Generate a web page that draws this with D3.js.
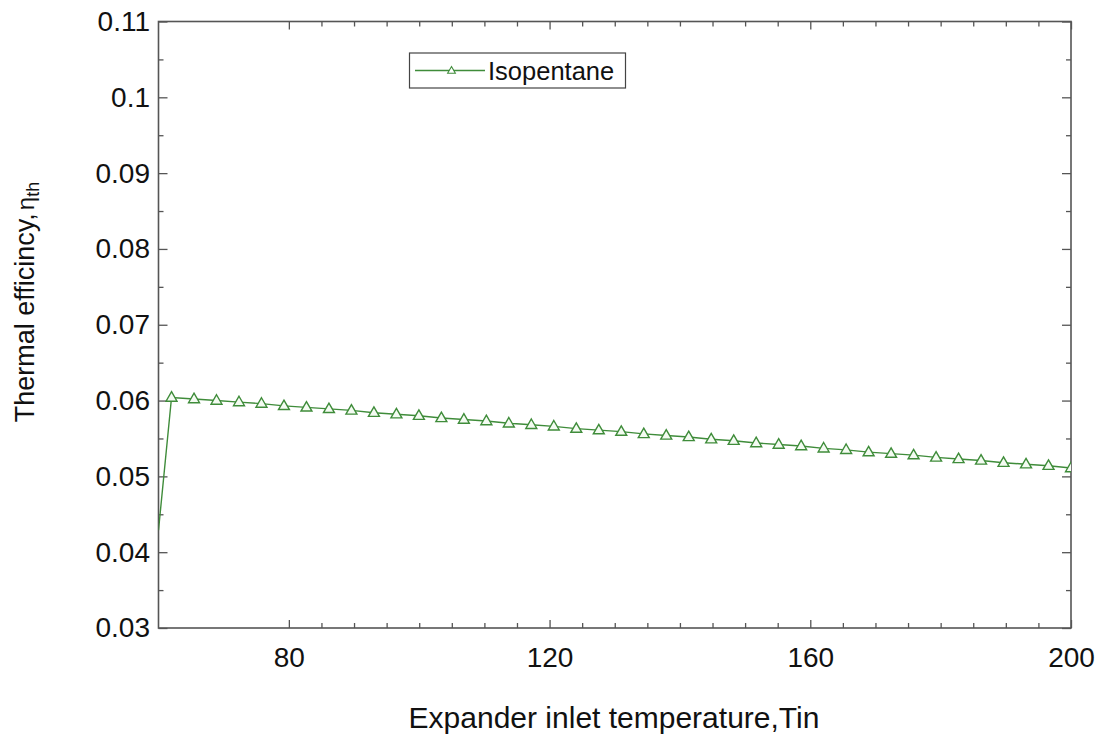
<!DOCTYPE html>
<html>
<head>
<meta charset="utf-8">
<script src="https://d3js.org/d3.v7.min.js"></script>
<style>
  html, body { margin: 0; padding: 0; background: #fff; }
  svg text { font-family: Arial, "Liberation Sans", sans-serif; fill: #111; }
</style>
</head>
<body>
<svg id="chart" width="1103" height="740"></svg>
<script>
// ---- data ----
const seriesName = "Isopentane";
const startPoint = [60.0, 0.0429];   // line start (no marker)
const xValues = [62.00, 65.45, 68.90, 72.35, 75.80, 79.25, 82.70, 86.15, 89.60, 93.05,
                 96.50, 99.95, 103.40, 106.85, 110.30, 113.75, 117.20, 120.65, 124.10, 127.55,
                 131.00, 134.45, 137.90, 141.35, 144.80, 148.25, 151.70, 155.15, 158.60, 162.05,
                 165.50, 168.95, 172.40, 175.85, 179.30, 182.75, 186.20, 189.65, 193.10, 196.55, 200.00];
const yValues = [0.0604, 0.0602, 0.0600, 0.0598, 0.0596, 0.0593, 0.0591, 0.0589, 0.0587, 0.0584,
                 0.0582, 0.0580, 0.0577, 0.0575, 0.0573, 0.0570, 0.0568, 0.0566, 0.0563, 0.0561,
                 0.0559, 0.0556, 0.0554, 0.0552, 0.0549, 0.0547, 0.0544, 0.0542, 0.0540, 0.0537,
                 0.0535, 0.0532, 0.0530, 0.0528, 0.0525, 0.0523, 0.0521, 0.0518, 0.0516, 0.0514, 0.0511];
const xTicks = [80, 120, 160, 200];
const xMinorTicks = [85, 90, 95, 100, 105, 110, 115, 125, 130, 135, 140, 145, 150, 155,
                     165, 170, 175, 180, 185, 190, 195];
const yTicks = [0.03, 0.04, 0.05, 0.06, 0.07, 0.08, 0.09, 0.1, 0.11];
const yTickLabels = ["0.03", "0.04", "0.05", "0.06", "0.07", "0.08", "0.09", "0.1", "0.11"];
const yMinorTicks = [0.035, 0.045, 0.055, 0.065, 0.075, 0.085, 0.095, 0.105];
const xDomain = [60, 200];
const yDomain = [0.03, 0.11];

// ---- layout ----
const L = 158.5, R = 1071, T = 21.5, B = 628;
const svg = d3.select("#chart");
const x = d3.scaleLinear().domain(xDomain).range([L, R]);
const y = d3.scaleLinear().domain(yDomain).range([B, T]);
const axisColor = "#555";
const green = "#3f8c3a";
const font = "Arial, 'Liberation Sans', sans-serif";

svg.append("defs").append("clipPath").attr("id", "clip")
  .append("rect").attr("x", L).attr("y", T).attr("width", R - L).attr("height", B - T);

// ticks (inward) on all four sides
function addAxis(axisGen, tx, ty) {
  const g = svg.append("g").attr("transform", `translate(${tx},${ty})`).call(axisGen);
  g.select(".domain").remove();
  g.selectAll(".tick line").attr("stroke", axisColor).attr("stroke-width", 1.3);
  g.selectAll("text").attr("font-size", 28).style("font-family", font).attr("fill", "#111");
  return g;
}
// bottom
addAxis(d3.axisBottom(x).tickValues(xMinorTicks).tickSize(-5).tickFormat(""), 0, B);
addAxis(d3.axisBottom(x).tickValues(xTicks).tickSize(-8).tickPadding(19).tickFormat(d3.format("d")), 0, B);
// top
addAxis(d3.axisTop(x).tickValues(xMinorTicks).tickSize(-5).tickFormat(""), 0, T);
addAxis(d3.axisTop(x).tickValues(xTicks).tickSize(-8).tickFormat(""), 0, T);
// left
addAxis(d3.axisLeft(y).tickValues(yMinorTicks).tickSize(-5).tickFormat(""), L, 0);
addAxis(d3.axisLeft(y).tickValues(yTicks).tickSize(-9).tickPadding(8.5)
  .tickFormat((d, i) => yTickLabels[i]), L, 0);
// right
addAxis(d3.axisRight(y).tickValues(yMinorTicks).tickSize(-5).tickFormat(""), R, 0);
addAxis(d3.axisRight(y).tickValues(yTicks).tickSize(-9).tickFormat(""), R, 0);

// frame
svg.append("rect").attr("x", L).attr("y", T).attr("width", R - L).attr("height", B - T)
  .attr("fill", "none").attr("stroke", axisColor).attr("stroke-width", 1.6);

// series
const pts = [startPoint].concat(xValues.map((v, i) => [v, yValues[i]]));
const plot = svg.append("g").attr("clip-path", "url(#clip)");
plot.append("path").datum(pts)
  .attr("fill", "none").attr("stroke", green).attr("stroke-width", 1.4)
  .attr("d", d3.line().x(d => x(d[0])).y(d => y(d[1])));
const tri = d3.symbol().type(d3.symbolTriangle).size(52);
plot.selectAll(".mk").data(pts.slice(1)).enter().append("path")
  .attr("class", "mk")
  .attr("transform", d => `translate(${x(d[0])},${y(d[1]) + 0.5})`)
  .attr("d", tri)
  .attr("fill", "#f4fbf2").attr("stroke", green).attr("stroke-width", 1.4);

// legend
const lg = svg.append("g");
lg.append("rect").attr("x", 409.5).attr("y", 53).attr("width", 216).attr("height", 35)
  .attr("fill", "#fff").attr("stroke", "#444").attr("stroke-width", 1.2);
lg.append("line").attr("x1", 415).attr("x2", 485).attr("y1", 70.5).attr("y2", 70.5)
  .attr("stroke", green).attr("stroke-width", 1.4);
lg.append("path").attr("transform", "translate(451.5,71)")
  .attr("d", d3.symbol().type(d3.symbolTriangle).size(26))
  .attr("fill", "#fff").attr("stroke", green).attr("stroke-width", 1.1);
lg.append("text").attr("x", 488).attr("y", 80).attr("font-size", 25.5).text(seriesName);

// axis titles
svg.append("text").attr("x", 614).attr("y", 728).attr("text-anchor", "middle")
  .attr("font-size", 30).text("Expander inlet temperature,Tin");
const yt = svg.append("text").attr("transform", "translate(34,302) rotate(-90)")
  .attr("text-anchor", "middle").attr("font-size", 27);
yt.append("tspan").text("Thermal efficincy,");
yt.append("tspan").text("η").attr("font-size", 24).attr("dx", 3);
yt.append("tspan").text("th").attr("font-size", 18).attr("dy", 5);
</script>
</body>
</html>
